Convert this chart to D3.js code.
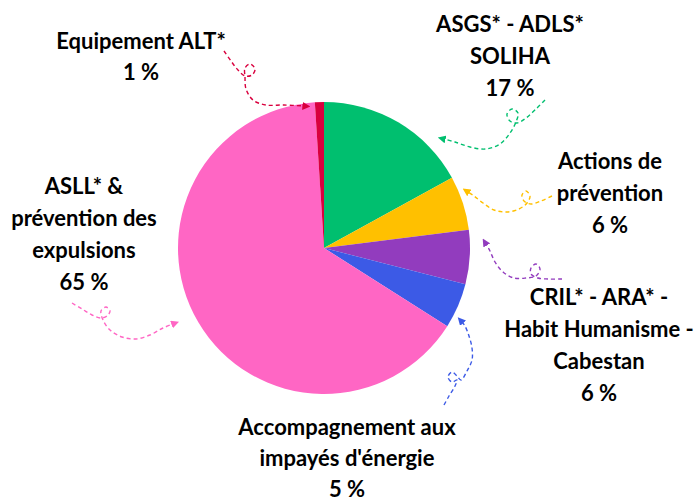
<!DOCTYPE html>
<html><head><meta charset="utf-8">
<script src="https://cdn.jsdelivr.net/npm/d3@7"></script>
<style>
html,body{margin:0;padding:0;background:#fff;}
svg text{font-family:Lato,"Open Sans",sans-serif;font-weight:700;fill:#000;}
</style></head>
<body><svg id="chart" width="695" height="503"></svg>
<script>
// ---- data ----
const categories = ["ASGS* - ADLS* SOLIHA", "Actions de prévention", "CRIL* - ARA* - Habit Humanisme - Cabestan", "Accompagnement aux impayés d'énergie", "ASLL* & prévention des expulsions", "Equipement ALT*"];
const values = [17, 6, 6, 5, 65, 1];
const labelLines = [["ASGS* - ADLS*", "SOLIHA"], ["Actions de", "prévention"], ["CRIL* - ARA* -", "Habit Humanisme -", "Cabestan"], ["Accompagnement aux", "impayés d'énergie"], ["ASLL* &", "prévention des", "expulsions"], ["Equipement ALT*"]];
const colors = ["#00BF6F", "#FFC000", "#923CBE", "#3C5AE6", "#FF66C4", "#D9003E"];

// ---- layout ----
const W = 695, H = 503;
const cx = 324, cy = 248, R = 146;
const labelPos = [[510, 25], [610, 162], [599, 298], [347, 428], [84, 187], [141, 42]];
const lineHs = [32, 32, 32, 31, 32, 31];

// decorative curly arrows (annotation paths), one per category
const arrowPts = [
  [[545,100],[536,109],[526,118],[517,123],[510,121],[507,114],[512,109],[518,113],[516,122],[510,133],[500,144],[486,149],[470,147],[455,142],[444,139]],
  [[552,196],[541,201],[531,204],[524,201],[522,195],[526,191],[530,196],[527,203],[519,209],[507,212],[494,210],[483,203],[474,196],[468,192]],
  [[562,279],[548,279],[538,278],[531,274],[531,268],[536,264],[540,269],[536,276],[526,278],[514,278],[503,272],[495,262],[490,251],[486,244]],
  [[444,405],[449,396],[455,386],[457,380],[452,382],[448,377],[452,372],[457,376],[461,380],[467,371],[472,360],[472,348],[469,336],[465,326],[462,322]],
  [[72,303],[82,309],[92,315],[101,318],[107,316],[110,311],[106,307],[101,311],[103,320],[110,330],[122,337],[136,339],[150,335],[163,328],[173,324]],
  [[224,51],[231,61],[238,70],[245,76],[252,75],[255,69],[250,64],[245,68],[245,77],[246,89],[253,100],[266,105],[284,105],[304,106]]
];

const svg = d3.select("#chart");

const pie = d3.pie().sort(null).value(d => d).startAngle(0).endAngle(2 * Math.PI);
const arc = d3.arc().innerRadius(0).outerRadius(R);
const arcs = pie(values);

const g = svg.append("g").attr("transform", `translate(${cx},${cy})`);
g.selectAll("path.slice").data(arcs).join("path")
  .attr("class", "slice")
  .attr("d", arc)
  .attr("fill", (d, i) => colors[i]);

// arrow markers
const defs = svg.append("defs");
colors.forEach((c, i) => {
  defs.append("marker")
    .attr("id", "ah" + i)
    .attr("viewBox", "0 0 10 10")
    .attr("refX", 2).attr("refY", 5)
    .attr("markerWidth", 8).attr("markerHeight", 8)
    .attr("markerUnits", "userSpaceOnUse")
    .attr("orient", "auto")
    .append("path").attr("d", "M0,0 L10,5 L0,10 Z").attr("fill", c);
});

const line = d3.line().curve(d3.curveCatmullRom.alpha(0.5));
svg.append("g").selectAll("path").data(arrowPts).join("path")
  .attr("d", d => line(d))
  .attr("fill", "none")
  .attr("stroke", (d, i) => colors[i])
  .attr("stroke-width", 1.4)
  .attr("stroke-dasharray", "4,3")
  .attr("marker-end", (d, i) => `url(#ah${i})`);

// labels
const fs = 22;
const lbl = svg.append("g").selectAll("text").data(categories).join("text")
  .attr("text-anchor", "middle")
  .attr("font-size", fs);
lbl.each(function(d, i) {
  const t = d3.select(this);
  const lines = labelLines[i].concat([values[i] + " %"]);
  lines.forEach((s, k) => {
    t.append("tspan")
      .attr("x", labelPos[i][0])
      .attr("y", labelPos[i][1] + k * lineHs[i] + 7)
      .text(s);
  });
});
</script></body></html>
